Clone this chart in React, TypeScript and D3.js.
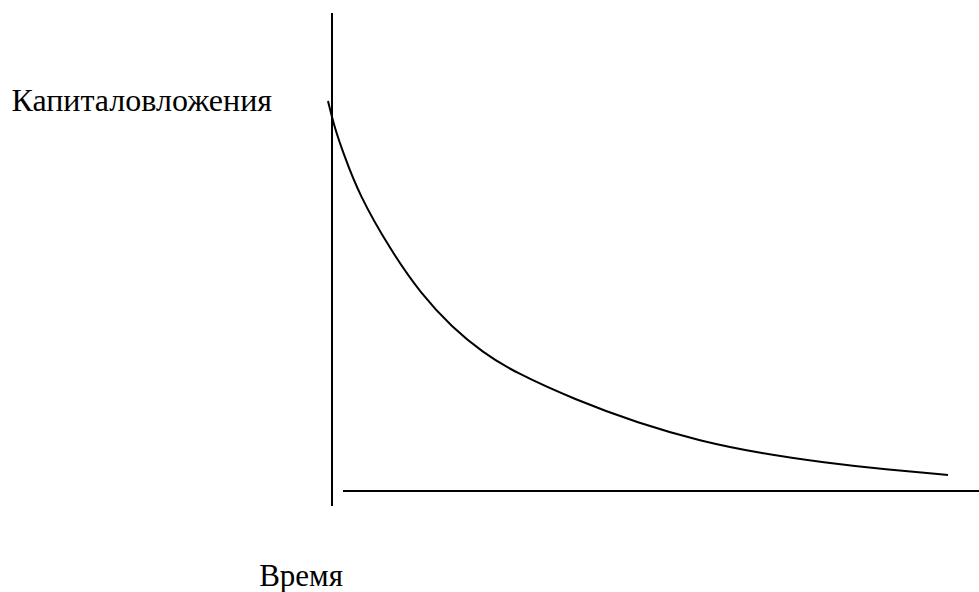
import React from "react";
import * as d3 from "d3";

const timeValues = [0, 0.1, 0.25, 0.5, 1, 1.5, 2, 2.5, 3, 4, 5, 6, 7, 8, 9, 10];
const investmentValues = [100, 93.5, 86.5, 76.0, 62.0, 50.5, 42.0, 35.5, 30.5, 23.3, 17.4, 12.8, 9.6, 7.3, 5.5, 4.1];
const yLabel = "Капиталовложения";
const xLabel = "Время";

const W = 979;
const H = 592;
const FONT = "'Liberation Serif', 'Times New Roman', serif";

export default function App() {
  const x = d3.scaleLinear().domain([0, 10]).range([328, 948]);
  const y = d3.scaleLinear().domain([0, 100]).range([491, 101]);
  const data = timeValues.map((t, i) => [t, investmentValues[i]] as [number, number]);
  const line = d3
    .line<[number, number]>()
    .x((d) => x(d[0]))
    .y((d) => y(d[1]))
    .curve(d3.curveBasis);

  return (
    <svg
      width={W}
      height={H}
      style={{ position: "absolute", left: 0, top: 0, background: "#fff" }}
    >
      <line x1={332} y1={13} x2={332} y2={506} stroke="#000" strokeWidth={2} />
      <line x1={343} y1={491} x2={979} y2={491} stroke="#000" strokeWidth={2} />
      <path d={line(data) || ""} fill="none" stroke="#000" strokeWidth={2} />
      <text x={272} y={111} textAnchor="end" fontFamily={FONT} fontSize={32} fill="#000">
        {yLabel}
      </text>
      <text x={343} y={586} textAnchor="end" fontFamily={FONT} fontSize={31} fill="#000">
        {xLabel}
      </text>
    </svg>
  );
}
